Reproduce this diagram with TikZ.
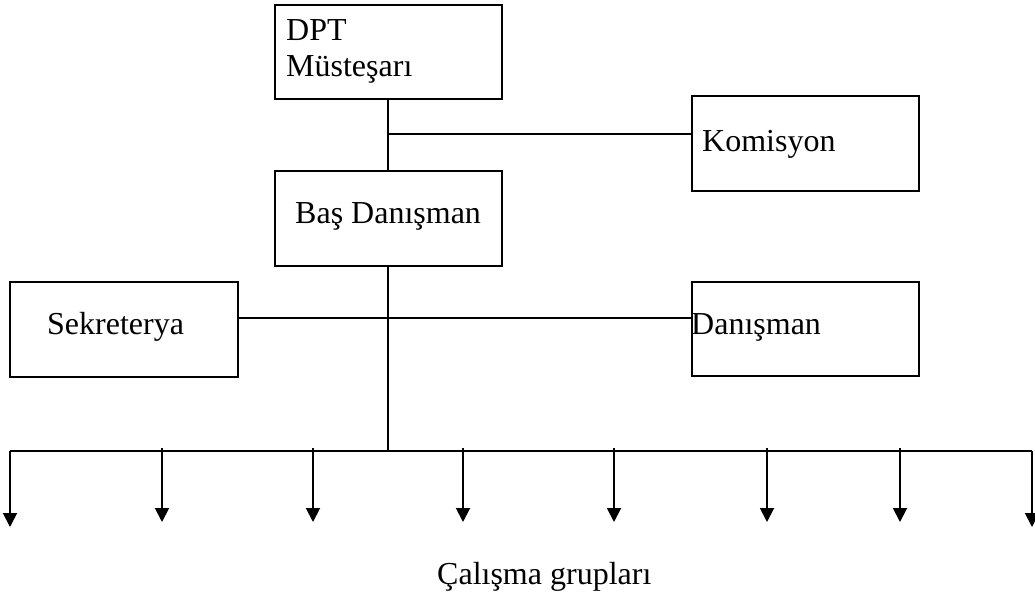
\documentclass[tikz,border=0pt]{standalone}
\usepackage{fontspec}
\setmainfont{Liberation Serif}
\usetikzlibrary{arrows.meta}
\begin{document}
\begin{tikzpicture}[x=1pt,y=-1pt,
  box/.style={draw,line width=2pt,rectangle,inner sep=0pt},
  lbl/.style={anchor=base west,inner sep=0pt,font=\fontsize{32}{36}\selectfont},
  conn/.style={line width=1.9pt},
  arr/.style={line width=1.9pt,-{Triangle[width=14pt,length=14pt]}}]
\useasboundingbox (0,0) rectangle (1035,603);
% boxes
\node[box,minimum width=227pt,minimum height=94pt] (dpt) at (388,52) {};
\node[box,minimum width=227pt,minimum height=95pt] (kom) at (805.5,143.5) {};
\node[box,minimum width=227pt,minimum height=95pt] (bas) at (388,218.5) {};
\node[box,minimum width=228pt,minimum height=95pt] (sek) at (124,329.5) {};
\node[box,minimum width=227pt,minimum height=94pt] (dan) at (805.5,329) {};
% texts
\node[lbl] (t1) at (286,40) {DPT};
\node[lbl] (t2) at (286,76) {Müsteşarı};
\node[lbl] (t3) at (702,151) {Komisyon};
\node[lbl] (t4) at (295,223) {Baş Danışman};
\node[lbl] (t5) at (47,334) {Sekreterya};
\node[lbl] (t6) at (691,334) {Danışman};
\node[lbl] (t7) at (437,584) {Çalışma grupları};
% connectors
\coordinate (j1) at (388,134);
\coordinate (j2) at (388,318);
\coordinate (j3) at (388,451);
\draw[conn] (dpt.south) -- (bas.north);
\draw[conn] (j1) -- (j1 -| kom.west);
\draw[conn] (bas.south) -- (j3);
\draw[conn] (sek.east |- j2) -- (dan.west |- j2);
\coordinate (bl) at (10,451);
\coordinate (br) at (1032,451);
\draw[conn] (bl) -- (br);
\draw[arr] (bl) -- (10,527);
\draw[arr] (br) -- (1032,527);
\foreach \x/\n in {162/a,313/b,463/c,614/d,767/e,900/f}{
  \coordinate (s\n) at (\x,448);
  \draw[arr] (s\n) -- (\x,522);
}
\end{tikzpicture}
\end{document}
